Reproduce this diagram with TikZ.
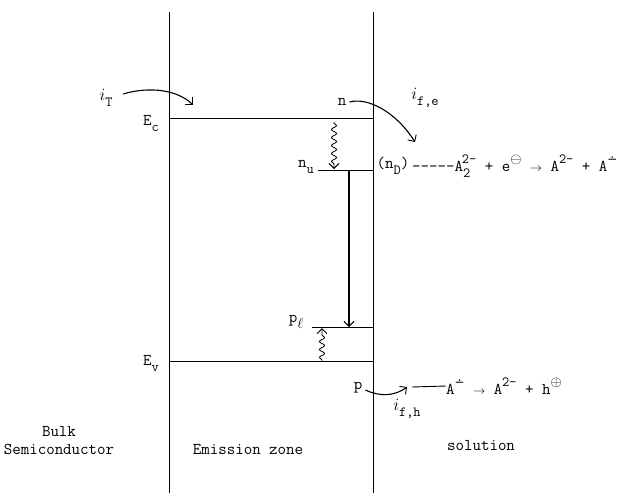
\documentclass[tikz,border=0pt]{standalone}
\usepackage{amsmath}
\usepackage{fontspec}
\newfontfamily\dvsans{DejaVu Sans}
\usetikzlibrary{arrows.meta,decorations.pathmorphing}
\newcommand\lo[1]{\raisebox{-6pt}{\fontsize{14}{14}\selectfont #1}}
\newcommand\hi[1]{\raisebox{8pt}{\fontsize{14}{14}\selectfont #1}}
\newcommand\radm{{\dvsans\fontsize{12}{12}\selectfont ∸}}
\newcommand\ital{{\fontsize{18}{18}\selectfont$i$}}
\begin{document}
\begin{tikzpicture}[x=1pt,y=-1pt,
  lbl/.style={inner sep=0pt,font=\fontsize{16.5}{18}\ttfamily},
  lvl/.style={line width=0.9pt},
  wall/.style={line width=0.7pt},
  tip/.style={-{Straight Barb[length=5pt,width=10pt,line width=0.9pt]}},
  wave/.style={decorate,decoration={snake,amplitude=2.6pt,segment length=8pt,pre length=1pt,post length=5pt}},
]
\useasboundingbox (0,0) rectangle (624,493);
% walls
\coordinate (wlT) at (169,12);
\coordinate (wlB) at (169,493);
\coordinate (wrT) at (373,12);
\coordinate (wrB) at (373,493);
\draw[wall] (wlT) -- (wlB);
\draw[wall] (wrT) -- (wrB);
% levels
\coordinate (ecL) at (169,118); \coordinate (ecR) at (373,118);
\coordinate (evL) at (169,361); \coordinate (evR) at (373,361);
\coordinate (nuL) at (318,170); \coordinate (nuR) at (373,170);
\coordinate (plL) at (312,327); \coordinate (plR) at (373,327);
\draw[lvl] (ecL) -- (ecR);
\draw[lvl] (evL) -- (evR);
\draw[lvl] (nuL) -- (nuR);
\draw[lvl] (plL) -- (plR);
% level labels
\node[lbl] (Ec) at (151,123) {E\lo{c}};
\node[lbl] (Ev) at (151,363) {E\lo{v}};
\node[lbl] (nu) at (306,167) {n\lo{u}};
\node[lbl] (pl) at (296,322) {p\lo{$\ell$}};
% transitions
\coordinate (w1a) at (334,122); \coordinate (w1b) at (334,169);
\draw[tip,line width=0.8pt,wave] (w1a) -- (w1b);
\coordinate (s1a) at (349,170); \coordinate (s1b) at (349,327);
\draw[tip,line width=1.3pt] (s1a) -- (s1b);
\coordinate (w2a) at (322,361); \coordinate (w2b) at (322,328);
\draw[tip,line width=0.8pt,wave] (w2a) -- (w2b);
% currents
\node[lbl] (iT) at (106,98) {\ital\lo{T}};
\coordinate (iTa) at (123,94); \coordinate (iTb) at (193,105);
\draw[tip,line width=1.1pt] (iTa) .. controls (150,86) and (178,90) .. (iTb);
\node[lbl] (n) at (342,102) {n};
\coordinate (nb) at (415,142);
\draw[tip,line width=1.1pt] (n.east) ++(3,0) .. controls (368,97) and (396,112) .. (nb);
\node[lbl] (ife) at (425,98) {\ital\lo{f,e}};
\node[lbl] (p) at (358,388) {p};
\coordinate (pb) at (407,387);
\draw[tip,line width=1.1pt] (p.east) ++(3,2) .. controls (380,397) and (395,396) .. (pb);
\node[lbl] (ifh) at (407,409) {\ital\lo{f,h}};
% solution reactions
\node[lbl] (nD) at (393,166) {(n\lo{D})};
\node[lbl,anchor=west] (r1) at (412,166) {-----A\lo{2}\hspace{-8.5pt}\hi{2-} + e\hi{$\ominus$} $\scriptstyle\rightarrow$ A\hi{2-} + A\hi{\radm}};
\coordinate (dashA) at (412,387);
\node[lbl,anchor=west] (r2) at (446,386) {A\hi{\radm} $\scriptstyle\rightarrow$ A\hi{2-} + h\hi{$\oplus$}};
\draw[line width=0.9pt] (dashA) -- (r2.west);
% region labels
\node[lbl,align=center] (bulk) at (59,441) {Bulk\\Semiconductor};
\node[lbl] (emz) at (248,450) {Emission zone};
\node[lbl] (sol) at (481,446) {solution};
\end{tikzpicture}
\end{document}
